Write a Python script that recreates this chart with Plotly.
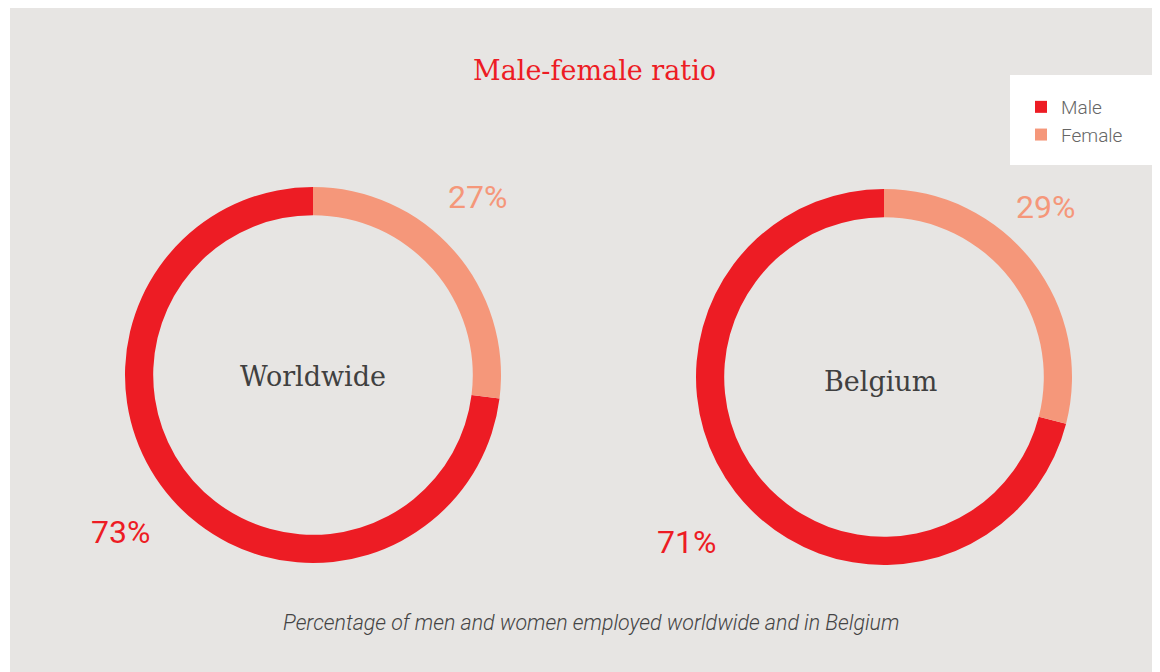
import plotly.graph_objects as go

# page body adds an 8px margin; positions below are given in screen pixels
OFF = 8
W, H = 1160 - OFF, 672 - OFF

labels = ["Male", "Female"]
worldwide = [73, 27]
belgium = [71, 29]
regions = ["Worldwide", "Belgium"]
colors = ["#ed1c24", "#f5977a"]

BG = "#e7e5e3"


def px(x, y):
    return (x - OFF) / W, 1 - (y - OFF) / H


fig = go.Figure()

# ring bounds in screen pixels: (left, top, right, bottom)
boxes = [(125, 187, 501, 563), (696, 189, 1072, 565)]
for name, vals, (x0, y0, x1, y1) in zip(regions, [worldwide, belgium], boxes):
    a0, b1 = px(x0, y0)
    a1, b0 = px(x1, y1)
    # male ring starts where the female share (drawn from 12 o'clock) ends
    start = vals[1] / sum(vals) * 360
    fig.add_trace(go.Pie(
        labels=labels, values=vals, name=name,
        hole=0.85, sort=False, direction="clockwise", rotation=start,
        marker=dict(colors=colors, line=dict(width=0)),
        textinfo="none", hoverinfo="label+percent",
        domain=dict(x=[a0, a1], y=[b0, b1]),
    ))

# grey panel and white legend box
gx0, _ = px(10, 0)
fig.add_shape(type="rect", xref="paper", yref="paper",
              x0=gx0, x1=1, y0=0, y1=1,
              fillcolor=BG, line_width=0, layer="below")
bx0, by1 = px(1010, 75)
bx1, by0 = px(1160, 165)
fig.add_shape(type="rect", xref="paper", yref="paper",
              x0=bx0, x1=bx1, y0=by0, y1=by1,
              fillcolor="white", line_width=0, layer="below")

ann = []
tx, ty = px(594, 70)
ann.append(dict(x=tx, y=ty, text="Male-female ratio",
                font=dict(family="DejaVu Serif", size=27, color="#ed1c24")))
for name, (cx, cy) in zip(regions, [(313, 376), (880, 381)]):
    ax, ay = px(cx, cy)
    ann.append(dict(x=ax, y=ay, text=name,
                    font=dict(family="DejaVu Serif", size=27, color="#404040")))

pct_pos = [((120, 532), (477, 197)), ((686, 542), (1045, 207))]
for vals, (male_pos, female_pos) in zip([worldwide, belgium], pct_pos):
    for v, pos, c in zip(vals, [male_pos, female_pos], colors):
        ax, ay = px(*pos)
        ann.append(dict(x=ax, y=ay, text=f"{v}%",
                        font=dict(family="Roboto", size=32, color=c)))

sx, sy = px(591, 622)
ann.append(dict(x=sx, y=sy,
                text="<i>Percentage of men and women employed worldwide and in Belgium</i>",
                font=dict(family="Roboto", size=21.4, color="#444444", weight=300)))

for a in ann:
    a.update(xref="paper", yref="paper", showarrow=False,
             xanchor="center", yanchor="middle")

lx, ly = px(1021, 88)
fig.update_layout(
    width=W, height=H,
    margin=dict(l=0, r=0, t=0, b=0),
    paper_bgcolor="white",
    plot_bgcolor=BG,
    annotations=ann,
    showlegend=True,
    legend=dict(x=lx, y=ly, xanchor="left", yanchor="top",
                bgcolor="rgba(0,0,0,0)", borderwidth=0,
                font=dict(family="Roboto", size=19, color="#666666", weight=300),
                itemwidth=30, tracegroupgap=0),
)

fig.write_html("out.html")
